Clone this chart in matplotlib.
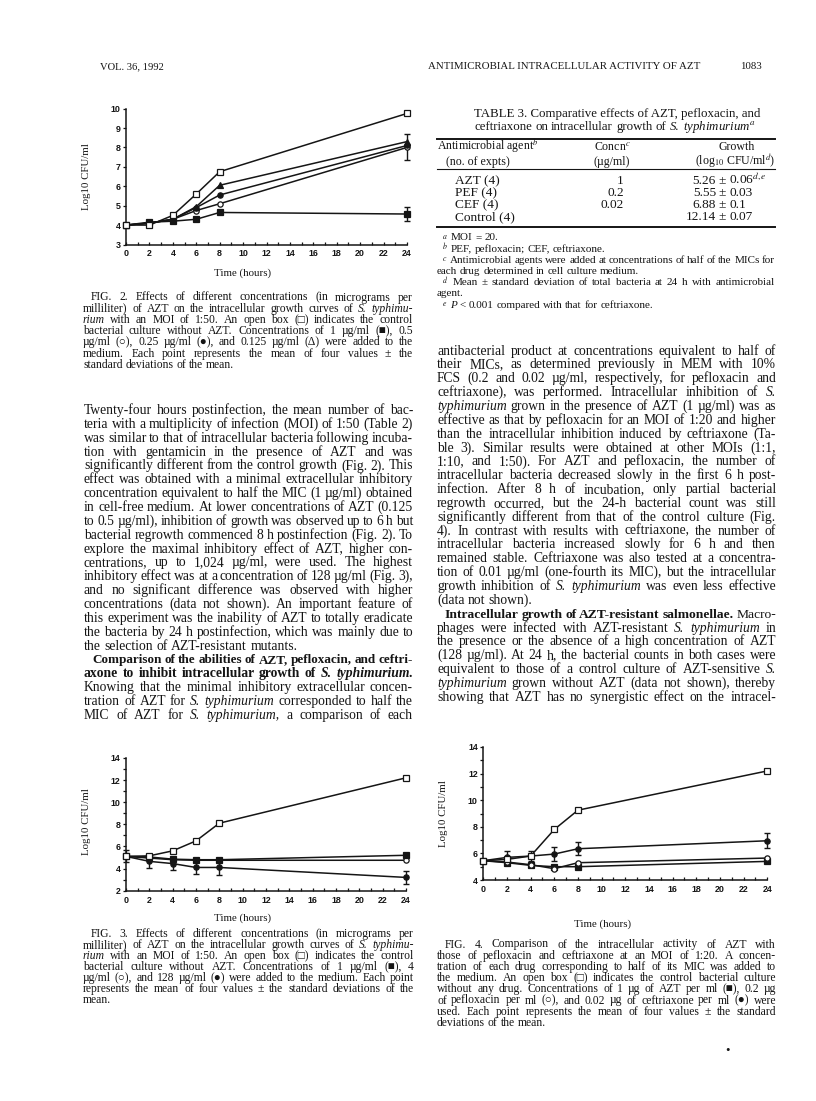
import numpy as np
import matplotlib
matplotlib.use('Agg')
from matplotlib import pyplot as plt
from matplotlib.lines import Line2D

plt.rcParams['mathtext.fontset'] = 'stix'

W, H = 816, 1101
SERIF = ['Liberation Serif', 'DejaVu Serif']
INK = '#151515'

# ---------------- data (log10 CFU/ml) ----------------
hours = [0, 2, 4, 6, 8, 24]

# Fig. 2
f2_control = [4.0, 4.0, 4.5, 5.6, 6.75, 9.75]
f2_c0125 = [4.0, 4.1, 4.3, 4.95, 6.05, 8.3]
f2_c025 = [4.0, 4.1, 4.3, 4.9, 5.55, 8.1]
f2_c05 = [4.0, 4.1, 4.3, 4.75, 5.1, 8.0]
f2_c1 = [4.0, 4.15, 4.2, 4.3, 4.65, 4.57]
f2_err_c05 = [0, 0, 0, 0, 0, 0.67]
f2_err_c1 = [0, 0, 0, 0, 0, 0.37]

# Fig. 3
f3_control = [5.1, 5.15, 5.6, 6.5, 8.1, 12.2]
f3_c1 = [5.1, 5.05, 4.85, 4.8, 4.8, 5.2]
f3_c4 = [5.1, 4.95, 4.8, 4.75, 4.75, 4.75]
f3_c128 = [5.1, 4.65, 4.45, 4.1, 4.1, 3.2]
f3_err_c128 = [0.55, 0.6, 0.6, 0.55, 0.7, 0.6]
f3_err_control = [0, 0, 0, 0, 0, 0.15]

# Fig. 4
f4_control = [5.45, 5.55, 5.8, 7.8, 9.25, 12.2]
f4_cef = [5.45, 5.7, 5.8, 5.95, 6.35, 6.95]
f4_pef = [5.45, 5.35, 5.15, 4.85, 5.3, 5.65]
f4_azt = [5.45, 5.3, 5.1, 5.0, 5.0, 5.4]
f4_err_cef = [0, 0.45, 0.4, 0.5, 0.5, 0.55]

# Table 3
t3_agents = ['AZT (4)', 'PEF (4)', 'CEF (4)', 'Control (4)']
t3_concn = ['1', '0.2', '0.02', '']
t3_growth = ['5.26', '5.55', '6.88', '12.14']
t3_sd = ['0.06$^{d,e}$', '0.03', '0.1', '0.07']

# ---------------- page text ----------------
# "*" = bold word, "_" = italic word, "> " = indented line, " ~" = not justified
fig2_caption = [
    "> FIG. 2. Effects of different concentrations (in micrograms per",
    "milliliter) of AZT on the intracellular growth curves of _S. _typhimu-",
    "_rium with an MOI of 1:50. An open box (□) indicates the control",
    "bacterial culture without AZT. Concentrations of 1 µg/ml (■), 0.5",
    "µg/ml (○), 0.25 µg/ml (●), and 0.125 µg/ml (Δ) were added to the",
    "medium. Each point represents the mean of four values ± the",
    "standard deviations of the mean. ~",
]

left_body = [
    "Twenty-four hours postinfection, the mean number of bac-",
    "teria with a multiplicity of infection (MOI) of 1:50 (Table 2)",
    "was similar to that of intracellular bacteria following incuba-",
    "tion with gentamicin in the presence of AZT and was",
    "significantly different from the control growth (Fig. 2). This",
    "effect was obtained with a minimal extracellular inhibitory",
    "concentration equivalent to half the MIC (1 µg/ml) obtained",
    "in cell-free medium. At lower concentrations of AZT (0.125",
    "to 0.5 µg/ml), inhibition of growth was observed up to 6 h but",
    "bacterial regrowth commenced 8 h postinfection (Fig. 2). To",
    "explore the maximal inhibitory effect of AZT, higher con-",
    "centrations, up to 1,024 µg/ml, were used. The highest",
    "inhibitory effect was at a concentration of 128 µg/ml (Fig. 3),",
    "and no significant difference was observed with higher",
    "concentrations (data not shown). An important feature of",
    "this experiment was the inability of AZT to totally eradicate",
    "the bacteria by 24 h postinfection, which was mainly due to",
    "the selection of AZT-resistant mutants. ~",
    "> *Comparison *of *the *abilities *of *AZT, *pefloxacin, *and *ceftri-",
    "*axone *to *inhibit *intracellular *growth *of *_S. *_typhimurium.",
    "Knowing that the minimal inhibitory extracellular concen-",
    "tration of AZT for _S. _typhimurium corresponded to half the",
    "MIC of AZT for _S. _typhimurium, a comparison of each",
]

table_notes = [
    "> $^a$ MOI = 20. ~",
    "> $^b$ PEF, pefloxacin; CEF, ceftriaxone. ~",
    "> $^c$ Antimicrobial agents were added at concentrations of half of the MICs for",
    "each drug determined in cell culture medium. ~",
    "> $^d$ Mean ± standard deviation of total bacteria at 24 h with antimicrobial",
    "agent. ~",
    "> $^e$ _P < 0.001 compared with that for ceftriaxone. ~",
]

right_body = [
    "antibacterial product at concentrations equivalent to half of",
    "their MICs, as determined previously in MEM with 10%",
    "FCS (0.2 and 0.02 µg/ml, respectively, for pefloxacin and",
    "ceftriaxone), was performed. Intracellular inhibition of _S.",
    "_typhimurium grown in the presence of AZT (1 µg/ml) was as",
    "effective as that by pefloxacin for an MOI of 1:20 and higher",
    "than the intracellular inhibition induced by ceftriaxone (Ta-",
    "ble 3). Similar results were obtained at other MOIs (1:1,",
    "1:10, and 1:50). For AZT and pefloxacin, the number of",
    "intracellular bacteria decreased slowly in the first 6 h post-",
    "infection. After 8 h of incubation, only partial bacterial",
    "regrowth occurred, but the 24-h bacterial count was still",
    "significantly different from that of the control culture (Fig.",
    "4). In contrast with results with ceftriaxone, the number of",
    "intracellular bacteria increased slowly for 6 h and then",
    "remained stable. Ceftriaxone was also tested at a concentra-",
    "tion of 0.01 µg/ml (one-fourth its MIC), but the intracellular",
    "growth inhibition of _S. _typhimurium was even less effective",
    "(data not shown). ~",
    "> *Intracellular *growth *of *AZT-resistant *salmonellae. Macro-",
    "phages were infected with AZT-resistant _S. _typhimurium in",
    "the presence or the absence of a high concentration of AZT",
    "(128 µg/ml). At 24 h, the bacterial counts in both cases were",
    "equivalent to those of a control culture of AZT-sensitive _S.",
    "_typhimurium grown without AZT (data not shown), thereby",
    "showing that AZT has no synergistic effect on the intracel-",
]

fig3_caption = [
    "> FIG. 3. Effects of different concentrations (in micrograms per",
    "milliliter) of AZT on the intracellular growth curves of _S. _typhimu-",
    "_rium with an MOI of 1:50. An open box (□) indicates the control",
    "bacterial culture without AZT. Concentrations of 1 µg/ml (■), 4",
    "µg/ml (○), and 128 µg/ml (●) were added to the medium. Each point",
    "represents the mean of four values ± the standard deviations of the",
    "mean. ~",
]

fig4_caption = [
    "> FIG. 4. Comparison of the intracellular activity of AZT with",
    "those of pefloxacin and ceftriaxone at an MOI of 1:20. A concen-",
    "tration of each drug corresponding to half of its MIC was added to",
    "the medium. An open box (□) indicates the control bacterial culture",
    "without any drug. Concentrations of 1 µg of AZT per ml (■), 0.2 µg",
    "of pefloxacin per ml (○), and 0.02 µg of ceftriaxone per ml (●) were",
    "used. Each point represents the mean of four values ± the standard",
    "deviations of the mean. ~",
]

fig = plt.figure(figsize=(W / 100, H / 100), dpi=100)
renderer = fig.canvas.get_renderer()


def fpos(x, y):
    # page pixels (origin top-left) -> figure fraction
    return x / W, 1 - y / H


def put(x, y, s, size, ha='left', style='normal', weight='normal', **kw):
    fx, fy = fpos(x, y)
    return fig.text(fx, fy, s, fontsize=size, ha=ha, va='baseline', color=INK,
                    fontstyle=style, fontweight=weight, family=SERIF, **kw)


def text_block(lines, x0, x1, y0, step, size, indent=8):
    """Draw lines word by word, justified to [x0, x1] like the printed page."""
    for i, line in enumerate(lines):
        em = size * 100 / 72
        y = y0 + i * step + 0.3 * em
        justify = not line.endswith(' ~')
        line = line.rstrip(' ~')
        start = x0
        if line.startswith('> '):
            start += indent
            line = line[2:]
        texts, widths = [], []
        for w in line.split():
            weight = style = 'normal'
            if w.startswith('*'):
                weight, w = 'bold', w[1:]
            if w.startswith('_'):
                style, w = 'italic', w[1:]
            t = put(start, y, w, size, style=style, weight=weight)
            texts.append(t)
            widths.append(t.get_window_extent(renderer).width)
        n = len(texts)
        need = sum(widths) + (n - 1) * 0.2 * em
        if need > x1 - start:
            # line too long for the column: shrink this line a little
            k = (x1 - start) / need
            for t in texts:
                t.set_fontsize(size * k)
            widths = [t.get_window_extent(renderer).width for t in texts]
            em *= k
        if justify and n > 1:
            gap = max((x1 - start - sum(widths)) / (n - 1), 1.0)
        else:
            gap = 0.25 * em
        x = start
        for t, wd in zip(texts, widths):
            t.set_position(fpos(x, y))
            x += wd + gap


def hline(x0, x1, y, lw):
    fig.add_artist(Line2D([x0 / W, x1 / W], [1 - y / H, 1 - y / H],
                          transform=fig.transFigure, color=INK, lw=lw))


def add_graph(x0, x1, ybot, ytop, ylim, ymajor, yminor):
    l, b = fpos(x0, ybot)
    ax = fig.add_axes([l, b, (x1 - x0) / W, (ybot - ytop) / H])
    ax.patch.set_visible(False)
    ax.set_xlim(0, 24)
    ax.set_ylim(*ylim)
    for s in ['top', 'right']:
        ax.spines[s].set_visible(False)
    for s in ['left', 'bottom']:
        ax.spines[s].set_linewidth(1.1)
        ax.spines[s].set_color(INK)
    xt = list(range(0, 25, 2))
    ax.set_xticks(xt, labels=[str(v) for v in xt], fontsize=6.4,
                  fontweight='bold', family='Liberation Sans')
    ax.set_xticks(range(1, 24, 2), minor=True)
    ax.set_yticks(ymajor, labels=[str(v) for v in ymajor], fontsize=6.4,
                  fontweight='bold', family='Liberation Sans')
    ax.set_yticks(yminor, minor=True)
    ax.tick_params(axis='x', which='both', direction='in', length=2.5,
                   width=0.9, pad=3.5, colors=INK)
    ax.tick_params(axis='y', which='both', direction='out', length=2.5,
                   width=0.9, pad=1.5, colors=INK)
    return ax


def series(ax, y, marker, filled, err=None):
    face = INK if filled else 'white'
    ax.plot(hours, y, color=INK, lw=1.1, marker=marker, ms=3.8, mfc=face,
            mec=INK, mew=0.9, clip_on=False, zorder=3)
    if err is not None:
        idx = [i for i, e in enumerate(err) if e > 0]
        eb = ax.errorbar([hours[i] for i in idx], [y[i] for i in idx],
                         yerr=[err[i] for i in idx], fmt='none', ecolor=INK,
                         elinewidth=1.0, capsize=2.2, capthick=1.0, zorder=2)
        for art in list(eb.lines[1]) + list(eb.lines[2]):
            art.set_clip_on(False)


# ---------------- running head ----------------
put(100, 69, 'VOL. 36, 1992', 7.6)
put(428, 69, 'ANTIMICROBIAL INTRACELLULAR ACTIVITY OF AZT', 7.8)
put(762, 69, '1083', 7.8, ha='right')

# ---------------- Fig. 2 ----------------
ax2 = add_graph(126, 407, 244.5, 108.6, (3, 10), list(range(3, 11)), [])
series(ax2, f2_c1, 's', True, f2_err_c1)
series(ax2, f2_c05, 'o', False, f2_err_c05)
series(ax2, f2_c025, 'o', True)
series(ax2, f2_c0125, '^', True)
series(ax2, f2_control, 's', False)
put(89, 177, 'Log10 CFU/ml', 7.8, ha='center', rotation=90, rotation_mode='anchor')
put(243, 276, 'Time (hours)', 7.8, ha='center')
text_block(fig2_caption, 83, 413, 297, 11.2, 8.4)

# ---------------- left column text ----------------
text_block(left_body, 84, 413, 410, 13.85, 9.8)

# ---------------- Fig. 3 ----------------
ax3 = add_graph(126, 406, 890.7, 757.9, (2, 14), list(range(2, 15, 2)),
                list(range(3, 14, 2)))
series(ax3, f3_c128, 'o', True, f3_err_c128)
series(ax3, f3_c4, 'o', False)
series(ax3, f3_c1, 's', True)
series(ax3, f3_control, 's', False, f3_err_control)
put(89, 822, 'Log10 CFU/ml', 7.8, ha='center', rotation=90, rotation_mode='anchor')
put(243, 921, 'Time (hours)', 7.8, ha='center')
text_block(fig3_caption, 83, 414, 933.5, 11.0, 8.4)

# ---------------- Table 3 ----------------
put(617, 117, 'TABLE 3. Comparative effects of AZT, pefloxacin, and', 9.3, ha='center')
text_block(["ceftriaxone on intracellular growth of _S. _typhimurium$^a$ ~"],
           474, 776, 126.5, 0, 9.3)
hline(437, 775, 139, 1.4)
put(437, 150, 'Antimicrobial agent$^b$', 8.6)
put(446, 165, '(no. of expts)', 8.6)
put(612, 150, 'Concn$^c$', 8.6, ha='center')
put(612, 165, '(µg/ml)', 8.6, ha='center')
put(737, 150, 'Growth', 8.6, ha='center')
put(735, 165, '(log$_{10}$ CFU/ml$^d$)', 8.6, ha='center')
hline(437, 775, 169, 0.8)
for i, (agent, conc, g, sd) in enumerate(zip(t3_agents, t3_concn, t3_growth, t3_sd)):
    y = 184.5 + i * 11.8
    put(455, y, agent, 9.6)
    put(624, y, conc, 9.6, ha='right')
    put(716, y, g, 9.6, ha='right')
    put(722, y, '±', 9.6, ha='center')
    put(729, y, sd, 9.6)
hline(437, 775, 227, 1.4)
text_block(table_notes, 437, 775, 237, 11.2, 8.0, indent=5)

# ---------------- right column text ----------------
text_block(right_body, 437, 776, 350.5, 13.85, 9.8)

# ---------------- Fig. 4 ----------------
ax4 = add_graph(483.3, 767.3, 880, 747, (4, 14), list(range(4, 15, 2)),
                list(range(5, 14, 2)))
series(ax4, f4_azt, 's', True)
series(ax4, f4_pef, 'o', False)
series(ax4, f4_cef, 'o', True, f4_err_cef)
series(ax4, f4_control, 's', False)
put(446, 814, 'Log10 CFU/ml', 7.8, ha='center', rotation=90, rotation_mode='anchor')
put(603, 927, 'Time (hours)', 7.8, ha='center')
text_block(fig4_caption, 437, 776, 944, 11.2, 8.4)
put(727, 1054, '•', 9, ha='center')

fig.savefig('out.png', dpi=100, facecolor='white')
